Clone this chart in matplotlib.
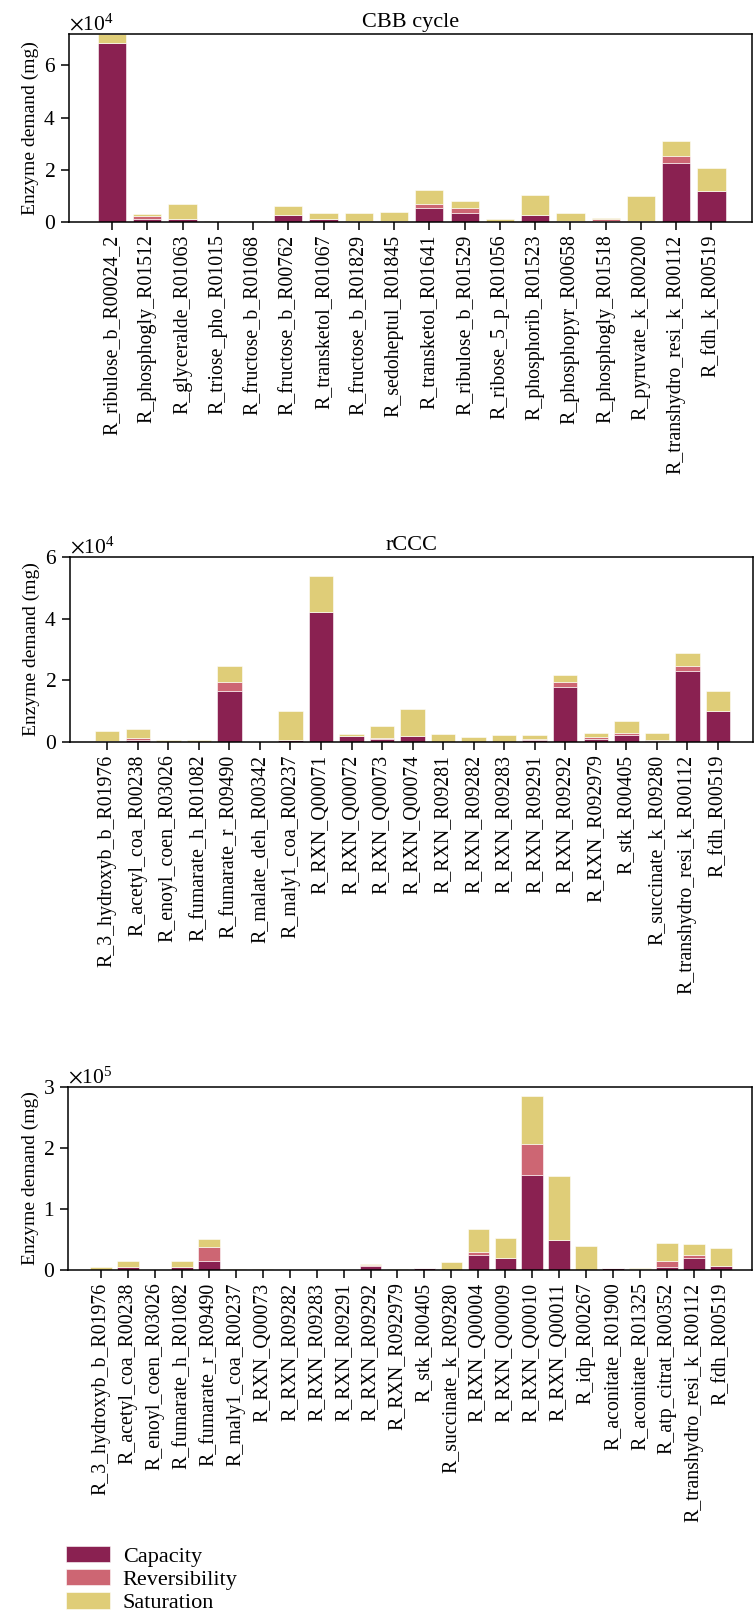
import matplotlib
matplotlib.use("Agg")
import matplotlib.pyplot as plt
from matplotlib.patches import Patch
import numpy as np

plt.rcParams['font.family'] = ['Liberation Serif', 'DejaVu Serif']
plt.rcParams['mathtext.fontset'] = 'stix'

# ---------------- data ----------------
cbb_labels = ["R_ribulose_b_R00024_2", "R_phosphogly_R01512", "R_glyceralde_R01063",
              "R_triose_pho_R01015", "R_fructose_b_R01068", "R_fructose_b_R00762",
              "R_transketol_R01067", "R_fructose_b_R01829", "R_sedoheptul_R01845",
              "R_transketol_R01641", "R_ribulose_b_R01529", "R_ribose_5_p_R01056",
              "R_phosphorib_R01523", "R_phosphopyr_R00658", "R_phosphogly_R01518",
              "R_pyruvate_k_R00200", "R_transhydro_resi_k_R00112", "R_fdh_k_R00519"]
cbb_capacity = [68600, 1200, 1000, 0, 0, 2500, 1000, 500, 500, 5500, 3500, 0,
                2500, 500, 500, 500, 22600, 11900]
cbb_reversibility = [0, 1000, 0, 0, 0, 0, 0, 0, 0, 1500, 2000, 0,
                     0, 0, 500, 0, 2500, 0]
cbb_saturation = [3400, 800, 6000, 200, 200, 3500, 2500, 3000, 3500, 5300, 2500, 1200,
                  7900, 3000, 500, 9500, 5900, 8800]

rccc_labels = ["R_3_hydroxyb_b_R01976", "R_acetyl_coa_R00238", "R_enoyl_coen_R03026",
               "R_fumarate_h_R01082", "R_fumarate_r_R09490", "R_malate_deh_R00342",
               "R_maly1_coa_R00237", "R_RXN_Q00071", "R_RXN_Q00072", "R_RXN_Q00073",
               "R_RXN_Q00074", "R_RXN_R09281", "R_RXN_R09282", "R_RXN_R09283",
               "R_RXN_R09291", "R_RXN_R09292", "R_RXN_R092979", "R_stk_R00405",
               "R_succinate_k_R09280", "R_transhydro_resi_k_R00112", "R_fdh_R00519"]
rccc_capacity = [300, 600, 0, 0, 16600, 0, 600, 42200, 2000, 1000, 1900, 0, 0, 0,
                 800, 17700, 900, 2400, 200, 23000, 10000]
rccc_reversibility = [0, 800, 0, 0, 2900, 0, 0, 0, 100, 200, 0, 0, 0, 0,
                      100, 1800, 800, 600, 400, 1700, 0]
rccc_saturation = [3200, 2700, 500, 500, 5100, 100, 9400, 11600, 500, 4000, 8700, 2500,
                   1600, 2300, 1400, 2100, 1100, 3700, 2400, 4200, 6500]

c3_labels = ["R_3_hydroxyb_b_R01976", "R_acetyl_coa_R00238", "R_enoyl_coen_R03026",
             "R_fumarate_h_R01082", "R_fumarate_r_R09490", "R_maly1_coa_R00237",
             "R_RXN_Q00073", "R_RXN_R09282", "R_RXN_R09283", "R_RXN_R09291",
             "R_RXN_R09292", "R_RXN_R092979", "R_stk_R00405", "R_succinate_k_R09280",
             "R_RXN_Q00004", "R_RXN_Q00009", "R_RXN_Q00010", "R_RXN_Q00011",
             "R_idp_R00267", "R_aconitate_R01900", "R_aconitate_R01325",
             "R_atp_citrat_R00352", "R_transhydro_resi_k_R00112", "R_fdh_R00519"]
c3_capacity = [0, 4500, 0, 4500, 15000, 0, 0, 0, 0, 0, 7000, 0, 3000, 0,
               24000, 20000, 156000, 50000, 0, 3000, 1000, 5000, 20000, 7000]
c3_reversibility = [0, 0, 0, 0, 23000, 0, 0, 0, 0, 0, 2000, 0, 0, 0,
                    5000, 0, 51000, 0, 0, 0, 1000, 10000, 5000, 0]
c3_saturation = [5000, 9500, 0, 9500, 13000, 2000, 2000, 0, 0, 0, 1000, 2000, 0, 13000,
                 39000, 32000, 79000, 104000, 40000, 1000, 1000, 29000, 17000, 29000]

series_names = ["Capacity", "Reversibility", "Saturation"]
colors = ["#8a2151", "#cd6673", "#dfcd78"]

# ---------------- figure ----------------
W, H = 756, 1619
fig = plt.figure(figsize=(W / 100, H / 100), dpi=100)

def axes_px(left, top, right, bottom):
    return fig.add_axes([left / W, 1 - bottom / H, (right - left) / W, (bottom - top) / H])

panels = [
    (axes_px(69, 34, 752, 222), cbb_labels, cbb_capacity, cbb_reversibility, cbb_saturation,
     "CBB cycle", 72000, [0, 20000, 40000, 60000]),
    (axes_px(70, 557, 753, 742), rccc_labels, rccc_capacity, rccc_reversibility, rccc_saturation,
     "rCCC", 60000, [0, 20000, 40000, 60000]),
    (axes_px(68, 1087, 752, 1270), c3_labels, c3_capacity, c3_reversibility, c3_saturation,
     None, 300000, [0, 100000, 200000, 300000]),
]

for ax, labels, cap, rev, sat, title, ymax, yticks in panels:
    x = np.arange(len(labels))
    cap = np.array(cap, float)
    rev = np.array(rev, float)
    sat = np.array(sat, float)
    kw = dict(width=0.8, edgecolor="white", linewidth=0.4)
    ax.bar(x, cap, color=colors[0], **kw)
    ax.bar(x, rev, bottom=cap, color=colors[1], **kw)
    ax.bar(x, sat, bottom=cap + rev, color=colors[2], **kw)
    ax.set_xlim(-1.22, len(labels) - 1 + 1.15)
    ax.set_ylim(0, ymax)
    ax.set_yticks(yticks)
    ax.set_xticks(x)
    ax.set_xticklabels(labels, rotation=90, fontsize=14.3)
    ax.ticklabel_format(axis='y', style='sci', scilimits=(0, 0), useMathText=True)
    ax.yaxis.get_offset_text().set_fontsize(15.5)
    ax.tick_params(axis='y', labelsize=15.5, length=6, width=1.1, direction='out')
    ax.tick_params(axis='x', length=6, width=1.1, direction='out', pad=3)
    for s in ax.spines.values():
        s.set_linewidth(1.1)
    ax.set_ylabel("Enzyme demand (mg)", fontsize=14, labelpad=3)
    if title:
        ax.set_title(title, fontsize=16, pad=5)

handles = [Patch(facecolor=c, edgecolor="white", linewidth=0.4) for c in colors]
fig.legend(handles, series_names, loc="upper left", bbox_to_anchor=(66 / W, 1 - 1546 / H),
           frameon=False, fontsize=16, handlelength=2.0, handleheight=0.75,
           handletextpad=0.55, labelspacing=0.1, borderpad=0, borderaxespad=0)

fig.savefig("out.png", dpi=100)
